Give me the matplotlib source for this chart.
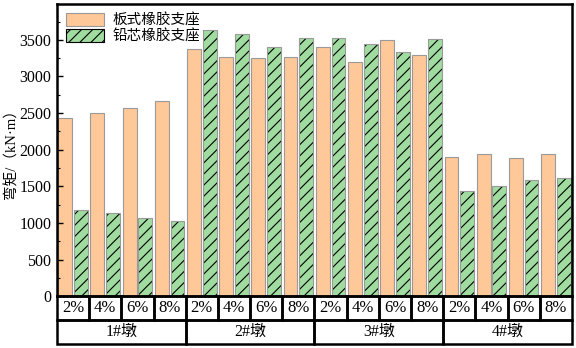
import matplotlib
matplotlib.use('Agg')
import matplotlib.pyplot as plt
from matplotlib.patches import Rectangle, Patch
from matplotlib.ticker import MultipleLocator, FixedLocator
import matplotlib.transforms as mtransforms
import numpy as np

plt.rcParams['font.family'] = ['Liberation Serif', 'Noto Sans CJK SC']
plt.rcParams['hatch.linewidth'] = 0.8

#-----DATA---------------------------------------------------------------------#
piers = ['1#墩', '2#墩', '3#墩', '4#墩']
ratios = ['2%', '4%', '6%', '8%']
series_names = ['板式橡胶支座', '铅芯橡胶支座']
plate = [2430, 2500, 2570, 2670,
         3370, 3270, 3250, 3270,
         3400, 3195, 3500, 3295,
         1897, 1937, 1883, 1937]
lead = [1180, 1130, 1065, 1025,
        3640, 3580, 3400, 3530,
        3530, 3440, 3340, 3515,
        1440, 1505, 1587, 1614]
yticks = [0, 500, 1000, 1500, 2000, 2500, 3000, 3500]

#-----PLOT---------------------------------------------------------------------#
fig = plt.figure(figsize=(5.76, 3.48), dpi=100)
ax = fig.add_axes([0.099, 0.149, 0.894, 0.8395])

x = np.arange(len(plate))
w = 0.43
ax.bar(x - 0.245, plate, width=w, color='#FFC898', edgecolor='#9a9a9a',
       linewidth=0.8)
# green bars: fill + black hatch, then grey outline on top
ax.bar(x + 0.245, lead, width=w, color='#A0DCA0', edgecolor='black',
       linewidth=0, hatch='///')
ax.bar(x + 0.245, lead, width=w, fill=False, edgecolor='#9a9a9a', linewidth=0.8)

ax.set_xlim(-0.5, len(plate) - 0.5)
ax.set_ylim(0, 3990)
ax.yaxis.set_major_locator(FixedLocator(yticks))
ax.yaxis.set_minor_locator(MultipleLocator(250))
ax.set_xticks([])
ax.tick_params(axis='y', labelsize=11.5, direction='in', length=4, width=1, pad=4)
ax.tick_params(axis='y', which='minor', direction='in', length=2.5, width=0.8)
for s in ax.spines.values():
    s.set_linewidth(1.8)

ax.set_ylabel('弯矩/（kN·m）', fontsize=10.5,
              family=['Liberation Serif', 'Noto Sans CJK SC'])
ax.yaxis.set_label_coords(-0.075, 0.5)

# legend handles
h1 = Patch(facecolor='#FFC898', edgecolor='#9a9a9a', linewidth=0.8)
h2 = Patch(facecolor='#A0DCA0', edgecolor='black', linewidth=0.8, hatch='///')
ax.legend([h1, h2], series_names, loc='upper left', frameon=False,
          handlelength=2.6, handleheight=1.0, borderaxespad=0.2,
          handletextpad=0.6, labelspacing=0.12,
          prop={'family': 'Noto Sans CJK SC', 'size': 10.5})

# table below the axis
trans = mtransforms.blended_transform_factory(ax.transData, ax.transAxes)
r1 = -0.083
r2 = -0.163
for i in range(len(plate)):
    ax.add_patch(Rectangle((i - 0.5, r1), 1, -r1, transform=trans, fill=False,
                           edgecolor='black', linewidth=1.8, clip_on=False))
    ax.text(i, r1 / 2, ratios[i % 4], transform=trans, ha='center', va='center',
            fontsize=12)
for g, name in enumerate(piers):
    ax.add_patch(Rectangle((g * 4 - 0.5, r2), 4, r1 - r2, transform=trans,
                           fill=False, edgecolor='black', linewidth=1.8, clip_on=False))
    ax.text(g * 4 + 1.5, (r1 + r2) / 2, name, transform=trans, ha='center',
            va='center', fontsize=11.5)

fig.savefig('out.png', dpi=100)
